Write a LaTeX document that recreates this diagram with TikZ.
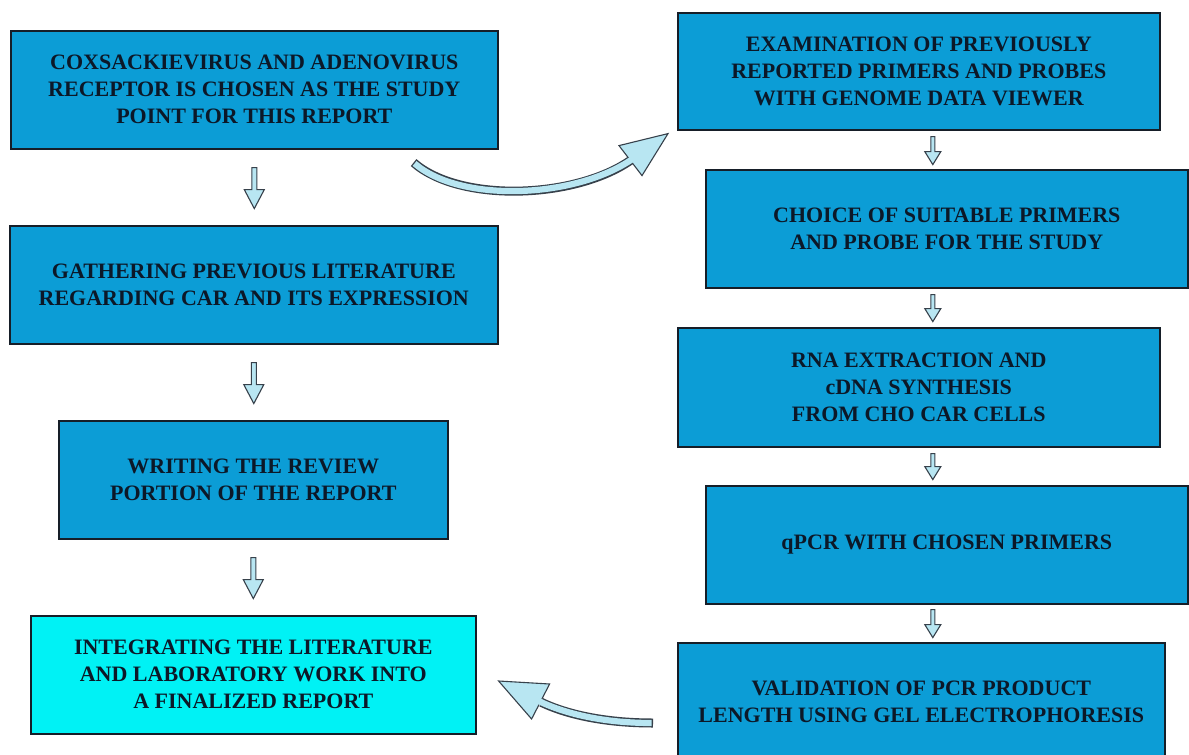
\documentclass[tikz,border=0pt]{standalone}
\usepackage{fontspec}
\setmainfont{Liberation Serif}
\usetikzlibrary{calc}
\definecolor{boxblue}{RGB}{12,157,214}
\definecolor{boxcyan}{RGB}{0,242,245}
\definecolor{arrowfill}{RGB}{184,230,242}
\definecolor{edgecol}{RGB}{22,30,40}
\definecolor{arrowedge}{RGB}{55,65,75}
\definecolor{txt}{RGB}{12,24,40}
\begin{document}
\begin{tikzpicture}[x=1pt,y=-1pt,
  box/.style={draw=edgecol, line width=1.6pt, fill=boxblue, text=txt,
    font=\bfseries\fontsize{22}{27}\selectfont, align=center,
    anchor=north west, inner sep=0pt, minimum height=118},
  finalbox/.style={box, fill=boxcyan},
  arrowsty/.style={draw=arrowedge, line width=1.1pt, fill=arrowfill, line join=miter},
  pics/dnarrow/.style args={#1/#2/#3/#4}{code={
    \draw[arrowsty] (-#2/2,0) -- (#2/2,0) -- (#2/2,#1-#4) -- (#3/2,#1-#4)
      -- (0,#1) -- (-#3/2,#1-#4) -- (-#2/2,#1-#4) -- cycle;}}
]
\clip (0,0) rectangle (1189,755);
\fill[white] (0,0) rectangle (1189,755);

% left column
\node[box, minimum width=487] (b1) at (10,30)
  {COXSACKIEVIRUS AND ADENOVIRUS\\RECEPTOR IS CHOSEN AS THE STUDY\\POINT FOR THIS REPORT};
\node[box, minimum width=488] (b2) at (9,225)
  {GATHERING PREVIOUS LITERATURE\\REGARDING CAR AND ITS EXPRESSION};
\node[box, minimum width=389] (b3) at (58,420)
  {WRITING THE REVIEW\\PORTION OF THE REPORT};
\node[finalbox, minimum width=445] (b4) at (30,615)
  {INTEGRATING THE LITERATURE\\AND LABORATORY WORK INTO\\A FINALIZED REPORT};

% right column
\node[box, minimum width=482, minimum height=117] (r1) at (677,12)
  {EXAMINATION OF PREVIOUSLY\\REPORTED PRIMERS AND PROBES\\WITH GENOME DATA VIEWER};
\node[box, minimum width=482] (r2) at (705,169)
  {CHOICE OF SUITABLE PRIMERS\\AND PROBE FOR THE STUDY};
\node[box, minimum width=482, minimum height=119] (r3) at (677,327)
  {RNA EXTRACTION AND\\cDNA SYNTHESIS\\FROM CHO CAR CELLS};
\node[box, minimum width=482] (r4) at (705,485)
  {qPCR WITH CHOSEN PRIMERS};
\node[box, minimum width=487] (r5) at (677,642)
  {VALIDATION OF PCR PRODUCT\\LENGTH USING GEL ELECTROPHORESIS};

% straight block arrows, left column
\pic at ($(b1.south)+(0,18)$) {dnarrow={41/5/20/19}};
\pic at ($(b2.south)+(0,18)$) {dnarrow={41/5/20/19}};
\pic at ($(b3.south)+(0,18)$) {dnarrow={41/5/20/19}};

% straight block arrows, right column
\pic at ($(r1.south)+(14,6)$) {dnarrow={28/4/16/13}};
\pic at ($(r2.south)+(-14,6)$) {dnarrow={27/4/16/13}};
\pic at ($(r3.south)+(14,6)$) {dnarrow={26/4/16/13}};
\pic at ($(r4.south)+(-14,5)$) {dnarrow={28/4/16/13}};

% curved arrow b1 -> r1
\coordinate (c1s) at ($(b1.south east)+(-85,13)$);
\coordinate (c1e) at ($(r1.south west)+(-44,28)$);
\coordinate (c1t) at ($(r1.south west)+(-9,3)$);
\coordinate (c1l) at ($(r1.south west)+(-58,15)$);
\coordinate (c1r) at ($(r1.south west)+(-35,45)$);
\draw[arrowedge, line width=9pt, shorten >=3pt]
  (c1s) .. controls (460,203) and (575,199) .. (c1e);
\draw[arrowsty] (c1t) -- (c1l) -- (c1r) -- cycle;
\draw[arrowfill, line width=6.2pt, shorten <=1.3pt]
  (c1s) .. controls (460,203) and (575,199) .. (c1e);

% curved arrow r5 -> b4
\coordinate (c2s) at ($(r5.north west)+(-24,81)$);
\coordinate (c2e) at ($(b4.north east)+(62,86)$);
\coordinate (c2t) at ($(b4.north east)+(22,66)$);
\coordinate (c2l) at ($(b4.north east)+(73,69)$);
\coordinate (c2r) at ($(b4.north east)+(55,104)$);
\draw[arrowedge, line width=9pt, shorten >=3pt]
  (c2s) .. controls (610,723) and (570,716) .. (c2e);
\draw[arrowsty] (c2t) -- (c2l) -- (c2r) -- cycle;
\draw[arrowfill, line width=6.2pt, shorten <=1.3pt]
  (c2s) .. controls (610,723) and (570,716) .. (c2e);
\end{tikzpicture}
\end{document}
